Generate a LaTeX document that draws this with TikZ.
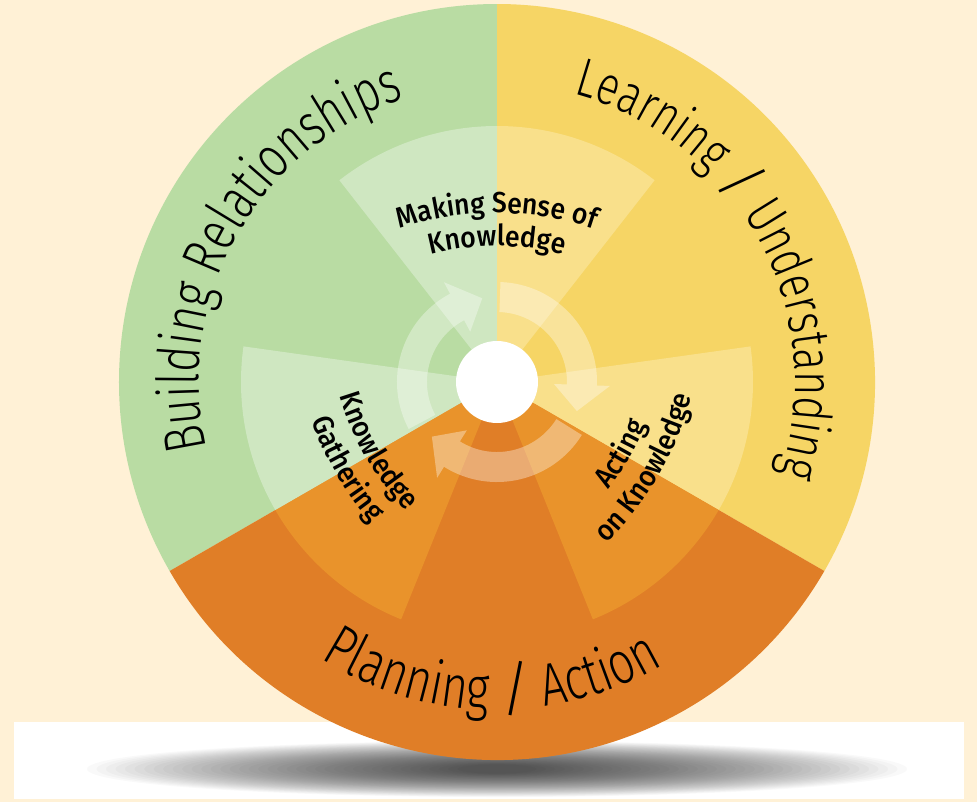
\documentclass[tikz,border=0pt]{standalone}
\usepackage{fontspec}
\usetikzlibrary{decorations.text}
\newfontfamily\ringfont[FakeStretch=0.76]{Fira Sans Light}
\newfontfamily\slashfont{Fira Sans Light}
\newfontfamily\wedgefont[FakeStretch=0.92]{Fira Sans Medium}
\newcommand\bigfont[1]{\ringfont\fontsize{#1}{#1}\selectfont}
\newcommand\bigslash[1]{\slashfont\fontsize{#1}{#1}\selectfont}
\definecolor{wheelbg}{HTML}{FFF1D6}
\definecolor{wheelgreen}{HTML}{B9DCA3}
\definecolor{wheelgreenlt}{HTML}{CFE7C1}
\definecolor{wheelyellow}{HTML}{F6D565}
\definecolor{wheelyellowlt}{HTML}{F9E08B}
\definecolor{wheelorange}{HTML}{E07E27}
\definecolor{wheelorangelt}{HTML}{E9932B}
\begin{document}
\begin{tikzpicture}
    [x=0.02cm, y=0.02cm,
     cyclearrow/.style={fill=white, fill opacity=0.35},
     ringlabel/.style={decorate, decoration={text along path, text align=center, text={#1}}},
     wedgelabel/.style={decorate, decoration={text along path, text align=center,
       text={|\wedgefont\fontsize{16.5}{18}\selectfont|#1}}}]
    \fill[wheelbg] (-497,-420) rectangle (480,382);
    \useasboundingbox (-497,-420) rectangle (480,382);
    % band with the shadow under the wheel
    \fill[white] (-483,-340) rectangle (467,-417);
    \begin{scope}
      \clip (-483,-340) rectangle (467,-417);
      \foreach \i in {0,...,39}
        \fill[black, opacity=0.022] (0,-387) ellipse ({410-9.5*\i} and {28-0.6*\i});
    \end{scope}
    % the three sectors
    \fill[wheelgreen] (0,0) -- (90:378) arc[start angle=90, end angle=210, radius=378] -- cycle;
    \fill[wheelyellow] (0,0) -- (-30:378) arc[start angle=-30, end angle=90, radius=378] -- cycle;
    \fill[wheelorange] (0,0) -- (210:378) arc[start angle=210, end angle=330, radius=378] -- cycle;
    \foreach \ang/\ccw/\cw in {90/wheelgreenlt/wheelyellowlt, 210/wheelorangelt/wheelgreenlt,
                               330/wheelyellowlt/wheelorangelt} {
      \fill[\ccw] (0,0) -- (\ang:256) arc[start angle=\ang, end angle=\ang+38, radius=256] -- cycle;
      \fill[\cw] (0,0) -- (\ang:256) arc[start angle=\ang, end angle=\ang-38, radius=256] -- cycle;
    }
    % cycle arrows
    \foreach \tail/\base/\tip in {208/118/100, 88/-2/-20, 328/238/220}
      \fill[cyclearrow] (\tail:100) arc[start angle=\tail, end angle=\base, radius=100]
        -- (\base:113) -- (\tip:85) -- (\base:57) -- (\base:70)
        arc[start angle=\base, end angle=\tail, radius=70] -- cycle;
    \fill[white] (0,0) circle (41);
    % outer labels
    \path[ringlabel={|\bigfont{33}|Building Relationships}]
      (207:298) arc[start angle=207, end angle=94, radius=298];
    \path[ringlabel={|\bigfont{31}|Learning |\bigslash{31}|/|\bigfont{31}| Understanding}]
      (84:298) arc[start angle=84, end angle=-27, radius=298];
    \path[ringlabel={|\bigfont{34}|Planning |\bigslash{34}|/|\bigfont{34}| Action}]
      (219:328) arc[start angle=219, end angle=319, radius=328];
    % inner labels
    \begin{scope}[shift={(0,-131)}]
      \path[wedgelabel={Making Sense of}] (125:300) arc[start angle=125, end angle=55, radius=300];
      \path[wedgelabel={Knowledge}] (125:267) arc[start angle=125, end angle=55, radius=267];
    \end{scope}
    \begin{scope}[shift={(30:131)}]
      \path[wedgelabel={Knowledge}] (175:282) arc[start angle=175, end angle=245, radius=282];
      \path[wedgelabel={Gathering}] (175:316) arc[start angle=175, end angle=245, radius=316];
    \end{scope}
    \begin{scope}[shift={(150:131)}]
      \path[wedgelabel={Acting}] (295:284) arc[start angle=295, end angle=365, radius=284];
      \path[wedgelabel={on Knowledge}] (295:318) arc[start angle=295, end angle=365, radius=318];
    \end{scope}
\end{tikzpicture}
\end{document}
